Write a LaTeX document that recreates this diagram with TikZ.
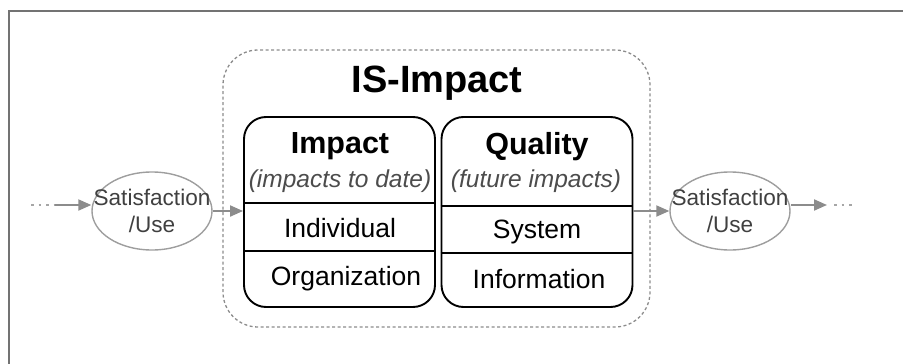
\documentclass[tikz,border=0pt]{standalone}
\usepackage{fontspec}
\setmainfont{Liberation Sans}
\usepackage{tikz}
\usetikzlibrary{shapes.geometric, arrows.meta, positioning, calc}

\begin{document}
\begin{tikzpicture}[
  x=1pt, y=-1pt,
  frame/.style={draw=black!55, line width=2pt},
  grpbox/.style={draw=black!45, dash pattern=on 3pt off 2.5pt, line width=1.3pt,
                 rounded corners=35pt, minimum width=427pt, minimum height=277pt},
  panel/.style={draw, line width=1.9pt, rounded corners=22pt,
                minimum width=191pt, minimum height=190pt},
  divider/.style={line width=1.9pt},
  ttl/.style={font=\fontsize{38}{44}\selectfont\bfseries, inner sep=0pt},
  hd/.style={font=\fontsize{30.5}{36}\selectfont\bfseries, inner sep=0pt},
  subhd/.style={font=\fontsize{24.5}{29}\selectfont\itshape, text=black!70, inner sep=0pt},
  dimtxt/.style={font=\fontsize{26.5}{31}\selectfont, inner sep=0pt},
  bubble/.style={ellipse, draw=black!38, line width=1.4pt, minimum width=120pt,
                 minimum height=78pt, inner sep=0pt},
  bubtxt/.style={align=center, text=black!75, inner sep=0pt,
                 font=\fontsize{22.6}{27}\selectfont},
  flowarr/.style={draw=black!45, line width=2pt, -{Triangle[length=13pt,width=11pt]}},
  contarr/.style={draw=black!35, line width=2pt, dash pattern=on 2.5pt off 5pt}
]
  \useasboundingbox (0,0) rectangle (903,364);
  % Outer frame (only left and top edges show)
  \draw[frame] (9,364) |- (903,11);

  % IS-Impact group
  \node[grpbox] (grp) at (436.5,188.5) {};
  \node[ttl] (ttl) at (437,83) {IS-Impact};

  % Impact panel
  \node[panel] (impbox) at (339.5,212) {};
  \node[hd]     (imphd)  at (340,146) {Impact};
  \node[subhd]  (impsub) at (340,181) {(impacts to date)};
  \node[dimtxt] (indiv)  at (340,228) {Individual};
  \node[dimtxt] (orga)   at (346,279) {Organization};
  \draw[divider] (impbox.west |- 0,203) -- (impbox.east |- 0,203);
  \draw[divider] (impbox.west |- 0,251) -- (impbox.east |- 0,251);

  % Quality panel
  \node[panel] (qualbox) at (537,212) {};
  \node[hd]     (qualhd)  at (537,147) {Quality};
  \node[subhd]  (qualsub) at (536,181) {(future impacts)};
  \node[dimtxt] (sys)     at (537,232) {System};
  \node[dimtxt] (info)    at (539,279) {Information};
  \draw[divider] (qualbox.west |- 0,206) -- (qualbox.east |- 0,206);
  \draw[divider] (qualbox.west |- 0,253) -- (qualbox.east |- 0,253);

  % Satisfaction/Use before and after
  \node[bubble] (satL) at (152,211) {};
  \node[bubtxt] (satLtxt) at (satL) {Satisfaction\\/Use};
  \node[bubble] (satR) at (730,211) {};
  \node[bubtxt] (satRtxt) at (satR) {Satisfaction\\/Use};

  % Incoming flow
  \coordinate (inA) at (31,205);
  \coordinate (inB) at (55,205);
  \draw[contarr] (inA) -- (inB);
  \draw[flowarr] (inB) -- (inB -| satL.west);
  \draw[flowarr] (satL.east) -- (satL.east -| impbox.west);

  % Outgoing flow
  \coordinate (outA) at (827,205);
  \coordinate (outB) at (834,205);
  \coordinate (outC) at (852,205);
  \draw[flowarr] (qualbox.east |- satR.west) -- (satR.west);
  \draw[flowarr] (satR.east |- outA) -- (outA);
  \draw[contarr] (outB) -- (outC);
\end{tikzpicture}
\end{document}
